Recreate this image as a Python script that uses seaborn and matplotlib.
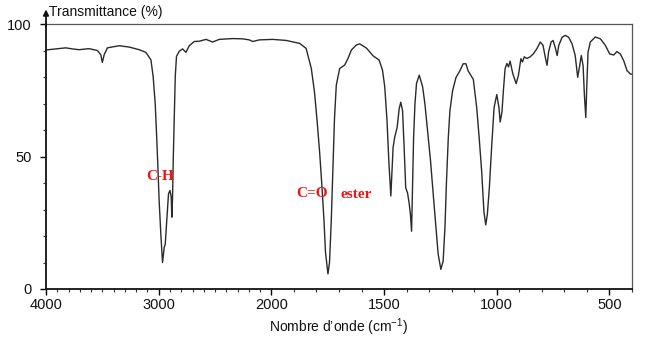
import numpy as np
import pandas as pd
import matplotlib
matplotlib.use("Agg")
import matplotlib.pyplot as plt
from matplotlib.ticker import FixedLocator, FixedFormatter
import seaborn as sns

# ---- data ----
wavenumber = [
    4000, 3914, 3825, 3766, 3707, 3618, 3544, 3514, 3500, 3484, 3455, 3351, 3262,
    3173, 3114, 3069, 3049, 3031, 3019, 3007, 2996, 2981, 2966, 2951, 2942, 2927,
    2913, 2900, 2889, 2883, 2877, 2871, 2862, 2853, 2842, 2818, 2788, 2758, 2729,
    2684, 2640, 2580, 2522, 2462, 2344, 2255, 2196, 2166, 2107, 1994, 1935, 1875,
    1846, 1823, 1809, 1798, 1786, 1776, 1767, 1760, 1749, 1742, 1734, 1727, 1720,
    1712, 1697, 1675, 1660, 1645, 1623, 1608, 1578, 1549, 1522, 1507, 1497, 1487,
    1479, 1470, 1465, 1460, 1453, 1442, 1433, 1426, 1418, 1411, 1404, 1396, 1389,
    1383, 1378, 1374, 1369, 1363, 1356, 1344, 1329, 1319, 1307, 1294, 1282, 1270,
    1260, 1248, 1238, 1230, 1223, 1215, 1208, 1196, 1181, 1164, 1149, 1137, 1127,
    1104, 1089, 1078, 1067, 1057, 1049, 1042, 1033, 1023, 1012, 1000, 990, 985,
    977, 970, 963, 955, 948, 941, 929, 914, 904, 893, 886, 878, 866, 852, 837, 822,
    807, 795, 785, 777, 770, 759, 750, 740, 732, 725, 710, 696, 681, 666, 652, 641,
    632, 625, 617, 611, 605, 601, 595, 585, 563, 540, 518, 499, 481, 467, 452, 437,
    422, 407, 400,
]
transmittance = [
    90.2, 90.6, 91.0, 90.6, 90.3, 90.7, 90.0, 88.4, 85.5, 88.4, 91.0, 91.8, 91.3,
    90.3, 89.3, 86.5, 80.1, 70.0, 58.6, 46.0, 33.3, 20.7, 10.0, 15.7, 16.9, 27.0,
    35.9, 37.2, 34.7, 27.1, 34.7, 48.6, 65.0, 80.2, 87.8, 89.7, 90.6, 89.3, 91.8,
    93.4, 93.5, 94.2, 93.2, 94.2, 94.5, 94.4, 94.0, 93.4, 94.0, 94.2, 93.8, 92.7,
    90.8, 83.3, 74.5, 64.3, 51.7, 39.1, 26.5, 13.9, 5.7, 10.1, 26.5, 45.4, 64.3,
    76.9, 83.2, 84.5, 87.0, 90.2, 92.1, 92.5, 90.9, 88.0, 86.4, 82.6, 76.3, 63.6,
    48.4, 35.1, 44.6, 53.4, 57.2, 61.0, 68.0, 70.5, 67.3, 53.4, 38.2, 36.3, 32.5,
    28.1, 21.8, 38.2, 57.2, 69.9, 77.6, 80.7, 76.3, 70.0, 59.9, 48.5, 35.8, 23.2,
    13.1, 7.4, 10.5, 23.1, 40.8, 57.2, 67.2, 74.8, 79.8, 82.3, 85.0, 85.0, 82.3,
    79.1, 68.4, 57.0, 44.4, 29.2, 24.2, 28.0, 38.1, 53.2, 68.4, 73.4, 68.3, 63.0,
    66.8, 75.6, 83.2, 85.1, 83.8, 86.0, 81.3, 77.5, 80.6, 86.9, 85.7, 87.6, 87.0,
    87.6, 88.8, 90.7, 93.2, 92.0, 87.6, 84.4, 89.5, 93.2, 93.8, 90.9, 88.1, 91.9,
    95.0, 95.7, 95.0, 92.5, 88.1, 79.9, 84.3, 88.1, 84.3, 72.9, 64.7, 75.5, 89.4,
    93.2, 95.1, 94.4, 91.9, 88.7, 88.3, 89.6, 88.7, 86.2, 82.4, 81.1, 81.1,
]

x_major_ticks = [4000, 3000, 2000, 1500, 1000, 500]
x_tick_labels = ["4000", "3000", "2000", "1500", "1000", "500"]
y_major_ticks = [0, 50, 100]
y_tick_labels = ["0", "50", "100"]
band_labels = ["C-H", "C=O", "ester"]

# ---- style ----
sns.set_theme(style="ticks")
plt.rcParams["font.family"] = ["Liberation Sans", "DejaVu Sans"]
plt.rcParams["mathtext.fontset"] = "custom"
plt.rcParams["mathtext.rm"] = "Liberation Sans"
plt.rcParams["mathtext.default"] = "regular"

fig = plt.figure(figsize=(6.51, 3.38), dpi=100)
ax = fig.add_axes([46 / 651, 49 / 338, 586 / 651, 265 / 338])


def fwd(w):
    w = np.asarray(w, dtype=float)
    return np.where(w >= 2000, w / 2.0, w - 1000.0)


def inv(u):
    u = np.asarray(u, dtype=float)
    return np.where(u >= 1000, u * 2.0, u + 1000.0)


ax.set_xscale("function", functions=(fwd, inv))

df = pd.DataFrame({"wavenumber": wavenumber, "transmittance": transmittance})
sns.lineplot(data=df, x="wavenumber", y="transmittance", ax=ax,
             color="#2a2a2a", linewidth=1.0, estimator=None)

ax.set_xlim(4000, 400)
ax.set_ylim(0, 100)

ax.xaxis.set_major_locator(FixedLocator(x_major_ticks))
ax.xaxis.set_major_formatter(FixedFormatter(x_tick_labels))
ax.xaxis.set_minor_locator(FixedLocator([v for v in range(400, 4001, 100)
                                         if v not in x_major_ticks]))
ax.yaxis.set_major_locator(FixedLocator(y_major_ticks))
ax.yaxis.set_major_formatter(FixedFormatter(y_tick_labels))
ax.yaxis.set_minor_locator(FixedLocator([10, 20, 30, 40, 60, 70, 80, 90]))

ax.tick_params(axis="both", which="major", direction="out", length=4.5,
               width=1.0, color="black", labelsize=10.5, labelcolor="#111111")
ax.tick_params(axis="both", which="minor", direction="out", length=2.5,
               width=0.8, color="#333333")
ax.tick_params(axis="x", which="major", pad=2)
ax.tick_params(axis="y", which="major", pad=6)

for side in ["left", "bottom"]:
    ax.spines[side].set_color("#111111")
    ax.spines[side].set_linewidth(1.3)
for side in ["top", "right"]:
    ax.spines[side].set_visible(True)
    ax.spines[side].set_color("#555555")
    ax.spines[side].set_linewidth(0.9)

ax.set_xlabel("Nombre d\u2019onde (cm$^{-1}$)", fontsize=10, color="#111111",
              labelpad=3)
ax.set_ylabel("")

# y-axis arrow and title above it
ax.annotate("", xy=(0, 1.055), xycoords="axes fraction", xytext=(0, 0.99),
            textcoords="axes fraction", annotation_clip=False,
            arrowprops=dict(arrowstyle="-|>", color="#111111", lw=1.3,
                            mutation_scale=8, shrinkA=0, shrinkB=0))
fig.text(49 / 651, 1 - 12 / 338, "Transmittance (%)", fontsize=10,
         color="#111111", ha="left", va="center")

# red band annotations
red = "#ee1515"
serif = ["Liberation Serif", "DejaVu Serif"]
ax.text(2987, 42.6, band_labels[0], color=red, fontsize=11, fontweight="bold",
        family=serif, ha="center", va="center")
ax.text(1818, 36.2, band_labels[1], color=red, fontsize=11, fontweight="bold",
        family=serif, ha="center", va="center")
ax.text(1622, 35.5, band_labels[2], color=red, fontsize=11, fontweight="bold",
        family=serif, ha="center", va="center")

fig.savefig("out.png", dpi=100, facecolor="white")
